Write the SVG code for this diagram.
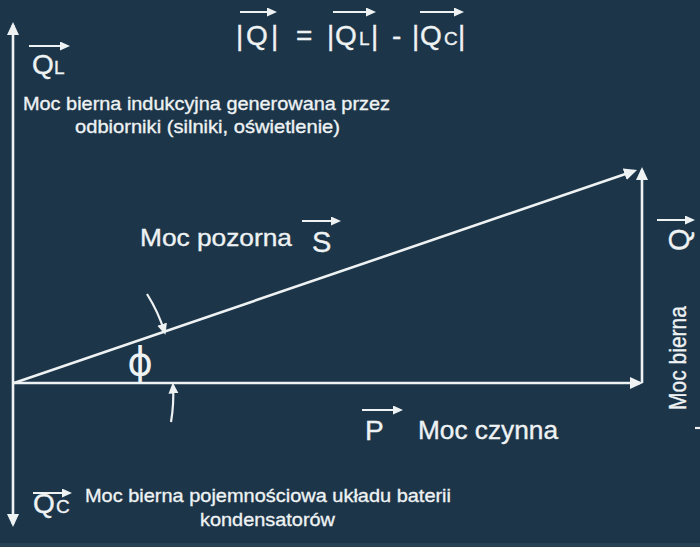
<svg xmlns="http://www.w3.org/2000/svg" width="700" height="547" viewBox="0 0 700 547">
<style>
.t{font-family:"Liberation Sans",Arial,sans-serif;fill:#eef2f3;stroke:#eef2f3;stroke-width:0.35}
.ph{font-family:"DejaVu Sans",sans-serif;fill:#eef2f3}
.ln{stroke:#eef2f3;stroke-width:2.6;fill:none}
.vl{stroke:#eef2f3;stroke-width:2.2;fill:none}
</style>
<defs>
<marker id="ah" markerUnits="userSpaceOnUse" markerWidth="14" markerHeight="12" refX="10" refY="6" orient="auto-start-reverse"><path d="M0,0 L13,6 L0,12 Z" fill="#eef2f3"/></marker>
<marker id="sa" markerUnits="userSpaceOnUse" markerWidth="12" markerHeight="11" refX="8" refY="5" orient="auto"><path d="M0,0 L11,5 L0,10 Z" fill="#eef2f3"/></marker>
<marker id="va" markerUnits="userSpaceOnUse" markerWidth="11" markerHeight="10" refX="7" refY="4.5" orient="auto"><path d="M0,0 L10,4.5 L0,9 Z" fill="#eef2f3"/></marker>
</defs>
<rect width="700" height="547" fill="#1c3549"/>
<rect y="543" width="700" height="4" fill="#254153"/>

<g id="connectors">
<line class="ln" x1="13" y1="25" x2="13" y2="524" marker-start="url(#ah)" marker-end="url(#ah)"/>
<line class="ln" x1="14" y1="383" x2="640" y2="383" marker-end="url(#ah)"/>
<line class="ln" x1="642" y1="383" x2="642" y2="170" marker-end="url(#ah)"/>
<line class="ln" x1="14" y1="383" x2="634.2" y2="171" marker-end="url(#ah)"/>
<path class="vl" d="M147,294 A159,159 0 0 1 164.5,331.8" marker-end="url(#sa)"/>
<path class="vl" d="M171,422 A159,159 0 0 0 173,385.5" marker-end="url(#sa)"/>
</g>

<g id="formula">
<line class="vl" x1="240" y1="12" x2="274" y2="12" marker-end="url(#va)"/>
<text class="t" x="236" y="45" font-size="28">|</text>
<text class="t" x="246" y="45" font-size="28">Q</text>
<text class="t" x="271" y="45" font-size="28">|</text>
<text class="t" x="296" y="45" font-size="28">=</text>
<line class="vl" x1="333" y1="12" x2="373" y2="12" marker-end="url(#va)"/>
<text class="t" x="327" y="45" font-size="28">|</text>
<text class="t" x="335" y="45" font-size="28">Q</text>
<text class="t" x="359" y="45" font-size="19">L</text>
<text class="t" x="371" y="45" font-size="28">|</text>
<text class="t" x="392" y="45" font-size="28">-</text>
<line class="vl" x1="420" y1="12" x2="461" y2="12" marker-end="url(#va)"/>
<text class="t" x="412" y="45" font-size="28">|</text>
<text class="t" x="420" y="45" font-size="28">Q</text>
<text class="t" x="444" y="45" font-size="19">C</text>
<text class="t" x="458" y="45" font-size="28">|</text>
</g>

<g id="QL">
<line class="vl" x1="29" y1="46" x2="67" y2="46" marker-end="url(#va)"/>
<text class="t" x="32" y="74" font-size="28">Q</text>
<text class="t" x="54" y="74" font-size="19">L</text>
<text class="t" x="23" y="110" font-size="19" textLength="367" lengthAdjust="spacingAndGlyphs">Moc bierna indukcyjna generowana przez</text>
<text class="t" x="75" y="133" font-size="19" textLength="265" lengthAdjust="spacingAndGlyphs">odbiorniki (silniki, oświetlenie)</text>
</g>

<g id="S">
<text class="t" x="140" y="246" font-size="24" textLength="152" lengthAdjust="spacingAndGlyphs">Moc pozorna</text>
<line class="vl" x1="302" y1="221" x2="338" y2="221" marker-end="url(#va)"/>
<text class="t" x="312" y="252" font-size="29">S</text>
</g>

<g id="phi">
<text class="ph" x="140" y="375" font-size="39" text-anchor="middle">ϕ</text>
</g>

<g id="P">
<line class="vl" x1="362" y1="410" x2="400" y2="410" marker-end="url(#va)"/>
<text class="t" x="365" y="440" font-size="28">P</text>
<text class="t" x="418" y="439" font-size="25" textLength="140" lengthAdjust="spacingAndGlyphs">Moc czynna</text>
</g>

<g id="QC">
<line class="vl" x1="33" y1="493" x2="69" y2="493" marker-end="url(#va)"/>
<text class="t" x="33" y="513" font-size="28">Q</text>
<text class="t" x="56" y="513" font-size="19">C</text>
<text class="t" x="85" y="502" font-size="19" textLength="366" lengthAdjust="spacingAndGlyphs">Moc bierna pojemnościowa układu baterii</text>
<text class="t" x="200" y="526" font-size="19" textLength="135" lengthAdjust="spacingAndGlyphs">kondensatorów</text>
</g>

<g id="Q">
<text class="t" transform="translate(686,410) rotate(-90)" font-size="24" textLength="104" lengthAdjust="spacingAndGlyphs">Moc bierna</text>
<text class="t" transform="translate(689,251) rotate(-90)" font-size="29">Q</text>
<line class="vl" x1="657" y1="220" x2="692" y2="220" marker-end="url(#va)"/>
<line class="vl" x1="695" y1="428" x2="700" y2="428"/>
</g>
</svg>
